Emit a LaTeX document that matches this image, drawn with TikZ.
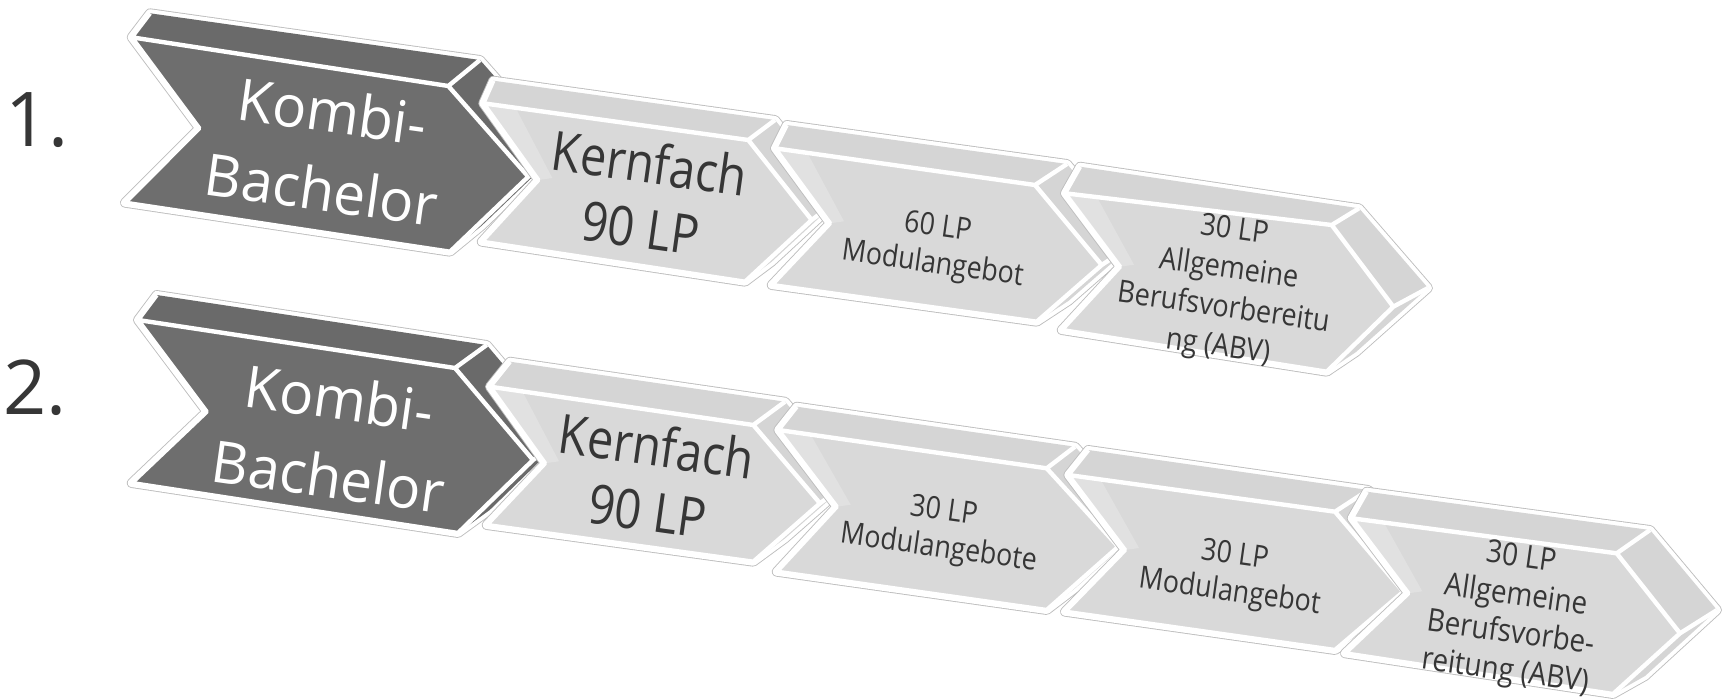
\documentclass[tikz,border=0pt]{standalone}
\usepackage{fontspec}
\setmainfont{Open Sans}
\usetikzlibrary{calc}
\definecolor{darkface}{HTML}{6E6E6E}
\definecolor{darktop}{HTML}{6A6A6A}
\definecolor{lightface}{HTML}{D9D9D9}
\definecolor{lighttop}{HTML}{D5D5D5}
\definecolor{txt}{HTML}{363636}
\definecolor{rim}{HTML}{BDBDBD}

\newcommand\defchev[9]{%
 \coordinate (#1tl) at (#2); \coordinate (#1tr) at (#3); \coordinate (#1tip) at (#4);
 \coordinate (#1br) at (#5); \coordinate (#1bl) at (#6); \coordinate (#1n) at (#7);
 \coordinate (#1btl) at (#8); \coordinate (#1btr) at (#9);
 \coordinate (#1btip) at ($(#1tip)+(#1btr)-(#1tr)$);
 \coordinate (#1bbr) at ($(#1br)+(#1btr)-(#1tr)$);
}
\newcommand\drawchev[3]{%
 \path[draw=rim, line width=5.6pt, line join=round] (#1bl) -- (#1n) -- (#1tl) -- (#1btl) -- (#1btr) -- (#1btip) -- (#1bbr) -- (#1br) -- cycle;
 \path[draw=white, fill=white, line width=4.6pt, line join=round] (#1bl) -- (#1n) -- (#1tl) -- (#1btl) -- (#1btr) -- (#1btip) -- (#1bbr) -- (#1br) -- cycle;
 \fill[#3] (#1tl) -- (#1btl) -- (#1btr) -- (#1tr) -- cycle;
 \fill[#3] (#1tr) -- (#1btr) -- (#1btip) -- (#1tip) -- cycle;
 \fill[#3] (#1tip) -- (#1btip) -- (#1bbr) -- (#1br) -- cycle;
 \fill[#2] (#1tl) -- (#1tr) -- (#1tip) -- (#1br) -- (#1bl) -- (#1n) -- cycle;
 \draw[white, line width=2.5pt, line join=round] (#1tl) -- (#1tr) -- (#1tip) -- (#1br) -- (#1bl) -- (#1n) -- cycle
   (#1tr) -- (#1btr) (#1tip) -- (#1btip) (#1tl) -- (#1btl);
}
\newcommand\ghost[1]{%
 \fill[white, opacity=0.22] (#1tl) -- ($(#1tl)+(32,4)$) -- ($(#1n)+(14,-2)$) -- (#1n) -- cycle;
}

\tikzset{
 bigwhite/.style={font=\fontsize{33}{45}\selectfont, text=white, align=center, rotate=-8, xscale=0.98},
 bigdark/.style={font=\fontsize{31}{37}\selectfont, text=txt, align=center, rotate=-8, xscale=0.86},
 smalldark/.style={font=\fontsize{17.5}{21}\selectfont, text=txt, align=center, rotate=-8, xscale=0.87},
 tinydark/.style={font=\fontsize{17.5}{22.3}\selectfont, text=txt, align=center, rotate=-8, xscale=0.88},
 numlbl/.style={font=\fontsize{43}{50}\selectfont, text=txt}
}

\begin{document}
\begin{tikzpicture}[x=0.02cm, y=-0.02cm]
\useasboundingbox (0,0) rectangle (1726,699);
\fill[white] (0,0) rectangle (1726,699);

% row 1
\defchev{a1}{131.7,37.3}{448.3,86}{528.3,176.7}{450,251.7}{125,202.7}{199.3,128.3}{150,13.3}{480,60}
\defchev{a2}{483.3,103.3}{748.3,140}{811.7,220}{745,281.7}{481.7,241.7}{538.3,180}{493.3,80.7}{775,120}
\defchev{a3}{775,148.3}{1035,185}{1101.7,265}{1036.7,321.7}{771.7,285}{830,223.3}{786.7,125}{1067,164}
\defchev{a4}{1065,193.3}{1331.7,225}{1393.3,306.7}{1326.7,371.7}{1061.7,330}{1120,266.7}{1080,166.7}{1359,208.3}
\coordinate (a4btip) at (1428,288);
\coordinate (a4bbr) at (1356,352);

% row 2
\defchev{b1}{138,320}{455,368}{533,460}{458,533}{131.7,483}{206.7,411.7}{156.7,295}{486.7,345}
\defchev{b2}{490,386.7}{753.3,425}{820,503.3}{753.3,561.7}{486.7,525}{545,463.3}{510,361.7}{785,401.7}
\defchev{b3}{778.3,430}{1046.7,468.3}{1118.3,546.7}{1046.7,610}{776.7,571.7}{836.7,506.7}{796.7,406.7}{1075,446.7}
\defchev{b4}{1068.3,475}{1335,511.7}{1403.3,591.7}{1335,650}{1065,611.7}{1125,550}{1088.3,450}{1368.3,490}
\defchev{b5}{1351.7,518.3}{1616.7,553.3}{1680,633.3}{1613,694}{1345,653.3}{1408.3,593.3}{1366.7,491.7}{1650,530}
\coordinate (b5btip) at (1717,610);
\coordinate (b5bbr) at (1645,676);

\drawchev{a1}{darkface}{darktop}
\drawchev{a2}{lightface}{lighttop}\ghost{a2}
\drawchev{a3}{lightface}{lighttop}\ghost{a3}
\drawchev{a4}{lightface}{lighttop}\ghost{a4}

\drawchev{b1}{darkface}{darktop}
\drawchev{b2}{lightface}{lighttop}\ghost{b2}
\drawchev{b3}{lightface}{lighttop}\ghost{b3}
\drawchev{b4}{lightface}{lighttop}\ghost{b4}
\drawchev{b5}{lightface}{lighttop}\ghost{b5}

% labels
\node[numlbl] (n1) at (37,120) {1.};
\node[numlbl] (n2) at (35,388) {2.};

\node[bigwhite] (t1) at (327,150) {Kombi-\\Bachelor};
\node[bigdark] (t2) at (645,195) {Kernfach\\90 LP};
\node[smalldark] (t3) at (935,247) {60 LP\\Modulangebot};
\node[tinydark] (t4) at (1226,290) {30 LP\\Allgemeine\\Berufsvorbereitu\\ng (ABV)};

\node[bigwhite] (u1) at (334,437) {Kombi-\\Bachelor};
\node[bigdark] (u2) at (652,478) {Kernfach\\90 LP};
\node[smalldark] (u3) at (941,531) {30 LP\\Modulangebote};
\node[smalldark] (u4) at (1232,575) {30 LP\\Modulangebot};
\node[tinydark, font=\fontsize{18}{21.8}\selectfont] (u5) at (1513,616) {30 LP\\Allgemeine\\Berufsvorbe-\\reitung (ABV)};
\end{tikzpicture}
\end{document}
